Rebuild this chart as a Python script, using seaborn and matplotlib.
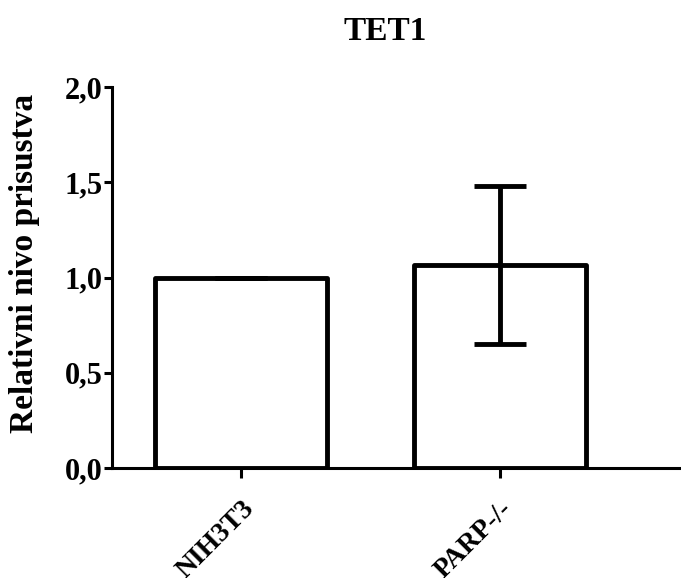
import numpy as np
import pandas as pd
import seaborn as sns
import matplotlib
matplotlib.use("Agg")
import matplotlib.pyplot as plt
from matplotlib.transforms import ScaledTranslation

# values
groups = ["NIH3T3", "PARP-/-"]
means = [1.0, 1.065]
errs = [0.0, 0.415]

sns.set_theme(style="ticks")
plt.rcParams["font.family"] = ["Liberation Serif", "DejaVu Serif"]
plt.rcParams["font.weight"] = "bold"
plt.rcParams["text.color"] = "black"
plt.rcParams["xtick.color"] = "black"
plt.rcParams["ytick.color"] = "black"
plt.rcParams["axes.labelcolor"] = "black"

df = pd.DataFrame({"group": groups, "mean": means})

fig = plt.figure(figsize=(6.81, 5.78), dpi=100)
ax = fig.add_axes([112 / 681, 1 - 468 / 578, 1 - 112 / 681, (468 - 87) / 578])

sns.barplot(data=df, x="group", y="mean", color="white", edgecolor="black",
            linewidth=3.5, width=0.664, errorbar=None, ax=ax)
for bar in ax.patches:
    bar.set_joinstyle("round")

ax.errorbar(range(len(groups)), means, yerr=errs, fmt="none", ecolor="black",
            elinewidth=3.5, capsize=19, capthick=3.5, zorder=5)

ax.set_ylim(0, 2.0)
ax.set_xlim(-0.5, 1.7)
ax.set_yticks([0, 0.5, 1.0, 1.5, 2.0])
ax.set_yticklabels(["0,0", "0,5", "1,0", "1,5", "2,0"], fontsize=22, fontweight="bold")
ax.set_xticks(range(len(groups)))
ax.set_xticklabels(groups, fontsize=20, fontweight="bold", rotation=45,
                   ha="right", va="top", rotation_mode="anchor")
shift = ScaledTranslation(0.18, 0, fig.dpi_scale_trans)
for lab in ax.get_xticklabels():
    lab.set_transform(lab.get_transform() + shift)
ax.set_xlabel("")
ax.set_ylabel("Relativni nivo prisustva", fontsize=24, fontweight="bold")
ax.yaxis.set_label_coords(-0.127, 0.538)
fig.text(385 / 681, 1 - 32 / 578, "TET1", fontsize=24, fontweight="bold",
         ha="center", va="center")

sns.despine(ax=ax)
for side in ["left", "bottom"]:
    ax.spines[side].set_linewidth(2.2)
    ax.spines[side].set_color("black")
ax.tick_params(axis="y", length=6, width=2.2, pad=1)
ax.tick_params(axis="x", length=7, width=2.2, pad=13)

fig.savefig("out.png", dpi=100)
